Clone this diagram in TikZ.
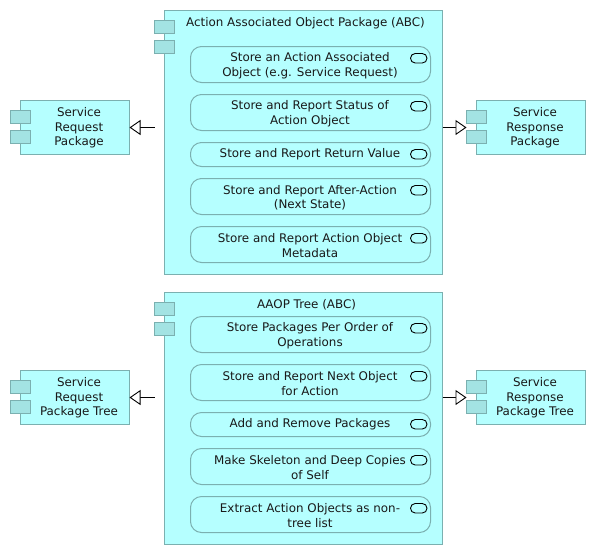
\documentclass[tikz,border=0pt]{standalone}
\usepackage{fontspec}
\setmainfont{DejaVu Sans}
\usetikzlibrary{arrows.meta}
\definecolor{fillc}{HTML}{B5FFFF}
\definecolor{tabc}{HTML}{A3E3E3}
\definecolor{linec}{HTML}{7BB0B0}
\tikzset{
  x=1pt,y=-1pt,
  txt/.style={font=\fontsize{11.9}{14.7}\selectfont,align=center,inner sep=0pt,text=black!90},
  compbox/.style={draw=linec,fill=fillc,line width=1pt,inner sep=0pt,outer sep=0pt,minimum width=0pt},
  tabbox/.style={draw=linec,fill=tabc,line width=1pt},
  funcbox/.style={draw=linec,fill=fillc,line width=1pt,rounded corners=11pt},
  pill/.style={draw=black,line width=0.9pt,rounded corners=4.7pt},
  conn/.style={draw=black,line width=0.9pt,-{Triangle[open,length=11pt,width=15pt,fill=white]}},
}
% #1 name, #2 left, #3 top, #4 right, #5 bottom
\newcommand{\compshape}[5]{%
  \node[compbox,anchor=north west,minimum width=#4pt-#2pt,minimum height=#5pt-#3pt] (#1) at (#2,#3) {};
  \draw[tabbox] (#2-10,#3+10) rectangle (#2+10,#3+23);
  \draw[tabbox] (#2-10,#3+30) rectangle (#2+10,#3+43);
}
\newcommand{\funcshape}[4]{%
  \draw[funcbox] (190.5,#2) rectangle (430.5,#3);
  \node[txt] (#1) at (310,{(#2+#3)/2+1.2}) {#4};
  \draw[pill] (410.5,#2+7) rectangle (427,#2+16.5);
}
\newcommand{\funcone}[4]{%
  \draw[funcbox] (190.5,#2) rectangle (430.5,#3);
  \node[txt] (#1) at (310,{(#2+#3)/2+0.2}) {#4};
  \draw[pill] (410.5,#2+7) rectangle (427,#2+16.5);
}
\begin{document}
\begin{tikzpicture}
\useasboundingbox (0,0) rectangle (596,555);
% top
\compshape{bigA}{164.5}{10.5}{442.5}{274.5}
\node[txt] (titleA) at (305.5,23) {Action Associated Object Package (ABC)};
\funcshape{a1}{46.5}{82.5}{Store an Action Associated\\Object (e.g. Service Request)}
\funcshape{a2}{94.5}{130.5}{Store and Report Status of\\Action Object}
\funcone{a3}{142.5}{166.5}{Store and Report Return Value}
\funcshape{a4}{178.5}{214.5}{Store and Report After-Action\\(Next State)}
\funcshape{a5}{226.5}{262.5}{Store and Report Action Object\\Metadata}
\compshape{reqA}{20.5}{100.5}{129.5}{154.5}
\node[txt] (reqAt) at (79,128) {Service\\Request\\Package};
\compshape{resA}{476.5}{100.5}{585.5}{154.5}
\node[txt] (resAt) at (535,128) {Service\\Response\\Package};
\coordinate (fromAl) at (154.5,127.5);
\coordinate (fromAr) at (442.5,127.5);
\coordinate (toAr) at (466.5,127.5);
\draw[conn] (fromAl) -- (reqA.east |- fromAl);
\draw[conn] (fromAr) -- (toAr);
% bottom
\compshape{bigB}{164.5}{292.5}{442.5}{544.5}
\node[txt] (titleB) at (306.5,305) {AAOP Tree (ABC)};
\funcshape{b1}{316.5}{352.5}{Store Packages Per Order of\\Operations}
\funcshape{b2}{364.5}{400.5}{Store and Report Next Object\\for Action}
\funcone{b3}{412.5}{436.5}{Add and Remove Packages}
\funcshape{b4}{448.5}{484.5}{Make Skeleton and Deep Copies\\of Self}
\funcshape{b5}{496.5}{532.5}{Extract Action Objects as non-\\tree list}
\compshape{reqB}{20.5}{370.5}{129.5}{424.5}
\node[txt] (reqBt) at (79,398) {Service\\Request\\Package Tree};
\compshape{resB}{476.5}{370.5}{585.5}{424.5}
\node[txt] (resBt) at (535,398) {Service\\Response\\Package Tree};
\coordinate (fromBl) at (154.5,397.5);
\coordinate (fromBr) at (442.5,397.5);
\coordinate (toBr) at (466.5,397.5);
\draw[conn] (fromBl) -- (reqB.east |- fromBl);
\draw[conn] (fromBr) -- (toBr);
\end{tikzpicture}
\end{document}
